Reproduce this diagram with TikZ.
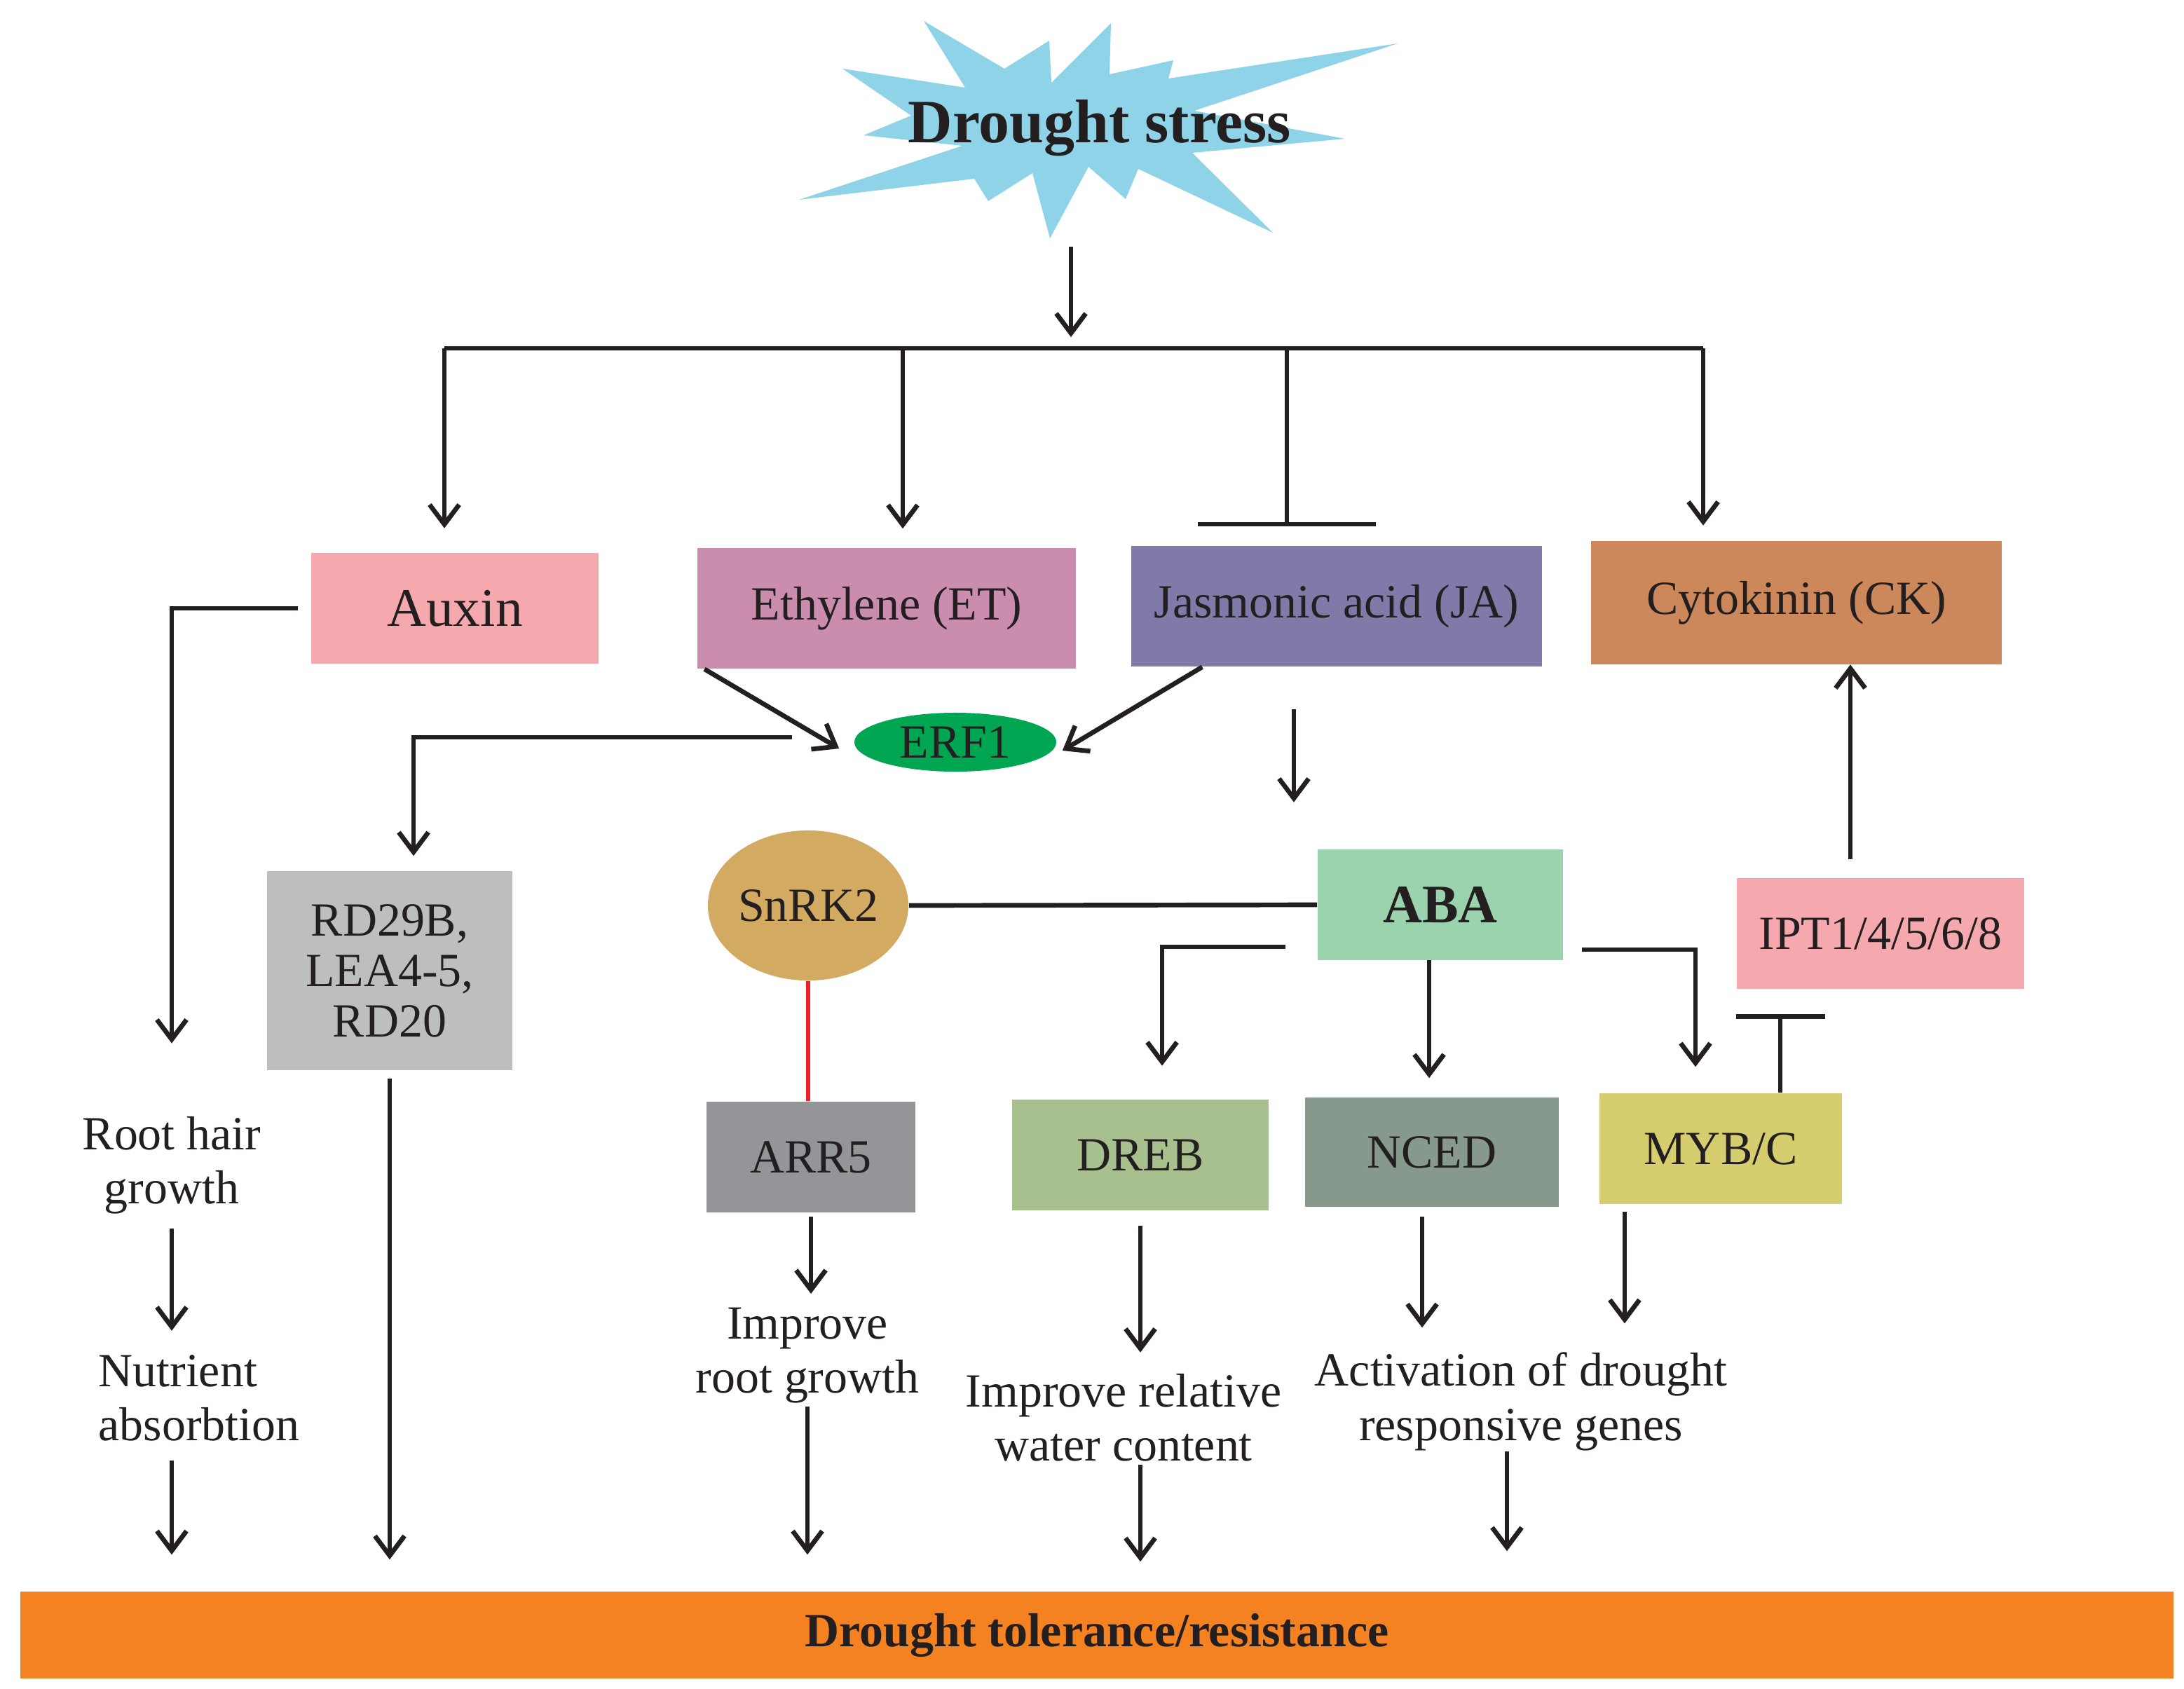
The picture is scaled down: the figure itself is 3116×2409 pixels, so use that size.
\documentclass[tikz,border=0pt]{standalone}
\usepackage{fontspec}
\setmainfont{Liberation Serif}
\usetikzlibrary{arrows.meta,shapes.geometric}
\begin{document}
\begin{tikzpicture}[x=0.01cm, y=-0.01cm,
  box/.style={rectangle, inner sep=0pt, text=txtcol, font=\fontsize{19.3pt}{22pt}\selectfont},
  blob/.style={ellipse, inner sep=0pt, text=txtcol, font=\fontsize{19.3pt}{22pt}\selectfont},
  lbl/.style={inner sep=0pt, align=center, text=txtcol, font=\fontsize{19.3pt}{22pt}\selectfont},
  ln/.style={line width=1.9pt, draw=txtcol},
  arr/.style={ln, -{Straight Barb[length=8pt, width=12pt]}}]
\definecolor{txtcol}{HTML}{231F20}
\definecolor{burstcol}{HTML}{8ED3E8}
\definecolor{auxincol}{HTML}{F5A9AE}
\definecolor{etcol}{HTML}{CB8DAE}
\definecolor{jacol}{HTML}{807AA8}
\definecolor{ckcol}{HTML}{CC885A}
\definecolor{erfcol}{HTML}{00A651}
\definecolor{rdcol}{HTML}{BCBEC0}
\definecolor{snrkcol}{HTML}{D3AA61}
\definecolor{abacol}{HTML}{9BD3AE}
\definecolor{arrcol}{HTML}{939598}
\definecolor{drebcol}{HTML}{A8BF8E}
\definecolor{ncedcol}{HTML}{87998D}
\definecolor{mybcol}{HTML}{D6CD6E}
\definecolor{barcol}{HTML}{F58220}
\definecolor{redcol}{HTML}{E8202A}
\fill[white] (0,0) rectangle (3116,2409);
\useasboundingbox (0,0) rectangle (3116,2409);

% drought stress burst
\fill[burstcol] (1318,30) -- (1433,98) -- (1497,58) -- (1500,118) -- (1585,33) -- (1583,106)
  -- (1674,86) -- (1667,112) -- (1994,62) -- (1704,158) -- (1919,198) -- (1701,218)
  -- (1816,332) -- (1624,241) -- (1606,284) -- (1553,238) -- (1498,340) -- (1473,247)
  -- (1410,287) -- (1390,255) -- (1140,285) -- (1373,208) -- (1232,193) -- (1300,165)
  -- (1202,98) -- (1377,125) -- cycle;
\node[lbl, font=\fontsize{25pt}{28pt}\selectfont\bfseries] (stress) at (1569,183) {Drought stress};

% hormones
\node[box, fill=auxincol, minimum width=4.1cm, minimum height=1.57cm, font=\fontsize{22pt}{25pt}\selectfont] (auxin) at (649,868) {Auxin};
\node[box, fill=etcol, minimum width=5.4cm, minimum height=1.72cm] (ethylene) at (1265,868) {Ethylene (ET)};
\node[box, fill=jacol, minimum width=5.86cm, minimum height=1.72cm] (ja) at (1907,865) {Jasmonic acid (JA)};
\node[box, fill=ckcol, minimum width=5.86cm, minimum height=1.75cm] (ck) at (2563,860) {Cytokinin (CK)};

% middle row
\node[blob, fill=erfcol, minimum width=2.88cm, minimum height=0.84cm] (erf) at (1363,1059) {ERF1};
\node[box, fill=rdcol, minimum width=3.5cm, minimum height=2.84cm, align=center, font=\fontsize{19.3pt}{20.5pt}\selectfont] (rd) at (556,1385) {RD29B,\\LEA4-5,\\RD20};
\node[blob, fill=snrkcol, minimum width=2.86cm, minimum height=2.14cm] (snrk) at (1153,1292) {SnRK2};
\node[box, fill=abacol, minimum width=3.5cm, minimum height=1.57cm, font=\fontsize{22pt}{25pt}\selectfont\bfseries] (aba) at (2055,1291) {ABA};
\node[box, fill=auxincol, minimum width=4.1cm, minimum height=1.57cm] (ipt) at (2683,1332) {IPT1/4/5/6/8};

% genes
\node[box, fill=arrcol, minimum width=2.98cm, minimum height=1.58cm] (arr5) at (1157,1651) {ARR5};
\node[box, fill=drebcol, minimum width=3.65cm, minimum height=1.57cm] (dreb) at (1627,1648) {DREB};
\node[box, fill=ncedcol, minimum width=3.62cm, minimum height=1.56cm] (nced) at (2043,1644) {NCED};
\node[box, fill=mybcol, minimum width=3.46cm, minimum height=1.58cm] (myb) at (2455,1639) {MYB/C};

% effects
\node[lbl] (roothair) at (245,1663) {Root hair\\growth};
\node[lbl, align=left, anchor=west] (nutrient) at (140,1995) {Nutrient\\absorbtion};
\node[lbl] (improveroot) at (1152,1934) {Improve\\root growth};
\node[lbl] (rwc) at (1603,2023) {Improve relative\\water content};
\node[lbl] (genes) at (2170,2000) {Activation of drought\\responsive genes};
\node[box, fill=barcol, minimum width=30.7cm, minimum height=1.24cm, font=\fontsize{19.3pt}{22pt}\selectfont\bfseries] (bar) at (1565,2333) {Drought tolerance/resistance};

% top split
\coordinate (burst) at (1528,352);
\coordinate (split) at (1528,497);
\coordinate (hl) at (634,497);
\coordinate (hr) at (2430,497);
\coordinate (etb) at (1288,497);
\coordinate (jab) at (1836,497);
\draw[arr, shorten >=1.6mm] (burst) -- (split);
\draw[ln] (hl) -- (hr);
\draw[arr, shorten >=3.5mm] (hl) -- (hl |- auxin.north);
\draw[arr, shorten >=2.7mm] (etb) -- (etb |- ethylene.north);
\draw[ln, -{Bar[width=25.3mm]}, shorten >=2.7mm] (jab) -- (jab |- ja.north);
\draw[arr, shorten >=2.2mm] (hr) -- (hr |- ck.north);

% auxin branch
\draw[arr, shorten >=10.4mm] ([xshift=-1.8mm]auxin.west) -| (roothair.north);
\draw[arr, shorten <=2mm, shorten >=3.4mm] (roothair.south) -- (roothair.south |- nutrient.north);
\draw[arr, shorten <=2.7mm, shorten >=5.2mm] (roothair.south |- nutrient.south) -- (roothair.south |- bar.north);

% ethylene / JA to ERF1
\draw[arr] ([xshift=1.1mm]ethylene.south west) -- ([xshift=-2.1mm,yshift=-0.9mm]erf.west);
\draw[arr] ([xshift=10.2mm]ja.south west) -- ([xshift=0.8mm,yshift=-1.2mm]erf.east);
\draw[arr, shorten >=2.1mm] ([xshift=-8.8mm,yshift=0.7mm]erf.west) -| ([xshift=3.4mm]rd.north);
\draw[arr, shorten <=1.1mm, shorten >=4.5mm] (rd.south) -- (rd.south |- bar.north);

% ABA
\draw[arr, shorten <=6mm, shorten >=6.7mm] ([xshift=-6.1mm]ja.south) -- ([xshift=-6.1mm]ja.south |- aba.north);
\draw[ln] (snrk.east) -- (aba.west);
\draw[ln, draw=redcol] (snrk.south) -- (snrk.south |- arr5.north);
\draw[arr, shorten <=0.5mm, shorten >=1.9mm] (arr5.south) -- (arr5.south |- improveroot.north);
\draw[arr, shorten <=0.4mm, shorten >=5.2mm] (improveroot.south) -- (improveroot.south |- bar.north);
\draw[arr, shorten >=4.8mm] ([xshift=-4.5mm,yshift=-6mm]aba.west) -| ([xshift=3.1mm]dreb.north);
\draw[arr, shorten >=2.7mm] ([xshift=-1.6mm]aba.south) -- ([xshift=-1.6mm]aba.south |- nced.north);
\draw[arr, shorten >=3.7mm] ([xshift=2.6mm,yshift=-6.4mm]aba.east) -| ([xshift=-3.6mm]myb.north);

% cytokinin loop
\draw[ln, -{Bar[width=12.7mm]}, shorten >=3.6mm] ([xshift=8.5mm]myb.north) -- ([xshift=8.5mm]myb.north |- ipt.south);
\draw[arr, shorten <=2.7mm] ([xshift=-4.3mm]ipt.north) -- ([xshift=-4.3mm]ipt.north |- ck.south);

% to tolerance
\draw[arr, shorten <=2.2mm, shorten >=3mm] (dreb.south) -- (dreb.south |- rwc.north);
\draw[arr, shorten <=0.4mm, shorten >=4.2mm] (dreb.south |- rwc.south) -- (dreb.south |- bar.north);
\draw[arr, shorten <=1.3mm, shorten >=3.5mm] ([xshift=-1.4mm]nced.south) -- ([xshift=-1.4mm]nced.south |- genes.north);
\draw[arr, shorten <=1mm, shorten >=4.1mm] ([xshift=-13.7mm]myb.south) -- ([xshift=-13.7mm]myb.south |- genes.north);
\draw[arr, shorten >=5.7mm] ([xshift=-2mm]genes.south) -- ([xshift=-2mm]genes.south |- bar.north);
\end{tikzpicture}
\end{document}
